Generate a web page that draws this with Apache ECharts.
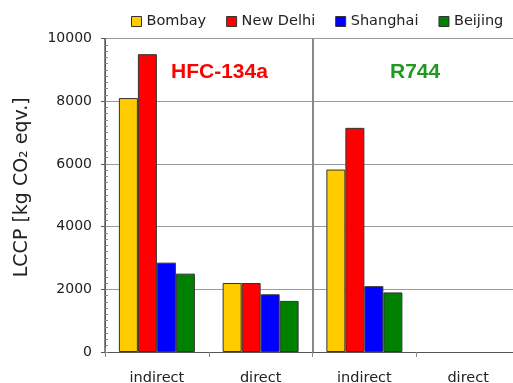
<!DOCTYPE html>
<html>
<head>
<meta charset="utf-8">
<script src="https://cdn.jsdelivr.net/npm/echarts@6/dist/echarts.min.js"></script>
<style>
  html, body { margin: 0; padding: 0; background: #fff; }
  #chart { width: 513px; height: 383px; }
</style>
</head>
<body>
<div id="chart"></div>
<script>
// Life-cycle climate performance per city, for two refrigerants
var categories = ['indirect', 'direct', 'indirect', 'direct'];
var bombay    = [8100, 2200, 5820, null];
var newDelhi  = [9500, 2200, 7150, null];
var shanghai  = [2850, 1840, 2100, null];
var beijing   = [2500, 1630, 1900, null];
var seriesNames = ['Bombay', 'New Delhi', 'Shanghai', 'Beijing'];
var seriesColors = ['#FFCC00', '#FF0000', '#0000FF', '#008000'];
var yTicks = [0, 2000, 4000, 6000, 8000, 10000];

var labelFont = 'DejaVu Sans';
var chart = echarts.init(document.getElementById('chart'), null, { renderer: 'canvas' });

function bar(name, data, color) {
  return {
    name: name,
    type: 'bar',
    data: data,
    barWidth: 19,
    barGap: '0%',
    itemStyle: { color: color, borderColor: '#333', borderWidth: 1 }
  };
}

// boundary lines only before the 1st and 3rd groups (the 1st sits under the y axis)
function dividerOnly(i) { return i === 0 || i === 2; }

chart.setOption({
  animation: false,
  backgroundColor: '#fff',
  grid: {
    left: 105, top: 38.5, bottom: 31, width: 415,
    containLabel: false, outerBoundsMode: 'none'
  },
  legend: {
    data: seriesNames,
    left: 131,
    top: 14,
    padding: 0,
    itemWidth: 10,
    itemHeight: 10,
    itemGap: 20,
    icon: 'rect',
    itemStyle: { borderColor: '#333', borderWidth: 1 },
    textStyle: { fontFamily: labelFont, fontSize: 14.5, color: '#222' }
  },
  xAxis: [{
    type: 'category',
    data: categories,
    position: 'bottom',
    axisLine: { lineStyle: { color: '#555', width: 1 } },
    axisTick: { show: true, length: 5, lineStyle: { color: '#888' } },
    axisLabel: { fontFamily: labelFont, fontSize: 14.5, color: '#222', margin: 19 },
    splitLine: {
      show: true,
      interval: dividerOnly,
      lineStyle: { color: '#888', width: 2 }
    }
  }, {
    // upper stub of the refrigerant divider
    type: 'category',
    data: categories,
    position: 'top',
    axisLine: { show: false },
    axisTick: { show: true, length: 4, interval: dividerOnly, lineStyle: { color: '#888', width: 2 } },
    axisLabel: { show: false },
    splitLine: { show: false }
  }],
  yAxis: [{
    type: 'value',
    min: yTicks[0],
    max: yTicks[yTicks.length - 1],
    interval: 2000,
    name: 'LCCP [kg CO\u2082 eqv.]',
    nameLocation: 'middle',
    nameGap: 73,
    nameTextStyle: { fontFamily: labelFont, fontSize: 19, color: '#222', padding: [0, 0, 0, 16] },
    axisLine: { show: true, lineStyle: { color: '#555' } },
    axisTick: { show: true, length: 4, lineStyle: { color: '#555' } },
    axisLabel: {
      fontFamily: labelFont, fontSize: 14, color: '#222', margin: 13,
      formatter: function (v) { return String(v); }
    },
    splitLine: { show: true, lineStyle: { color: '#9a9a9a', width: 1 } }
  }, {
    // fine inner ticks every 200
    type: 'value',
    min: yTicks[0],
    max: yTicks[yTicks.length - 1],
    interval: 200,
    position: 'left',
    axisLine: { show: false },
    axisTick: { show: true, inside: true, length: 3, lineStyle: { color: '#888' } },
    axisLabel: { show: false },
    splitLine: { show: false }
  }],
  series: [
    bar(seriesNames[0], bombay, seriesColors[0]),
    bar(seriesNames[1], newDelhi, seriesColors[1]),
    bar(seriesNames[2], shanghai, seriesColors[2]),
    bar(seriesNames[3], beijing, seriesColors[3])
  ],
  graphic: [{
    type: 'text',
    left: 171,
    top: 62,
    style: { text: 'HFC-134a', fill: '#FF0000', font: 'bold 21px "Liberation Sans", Arial, sans-serif' }
  }, {
    type: 'text',
    left: 390,
    top: 62,
    style: { text: 'R744', fill: '#1F9A1F', font: 'bold 21px "Liberation Sans", Arial, sans-serif' }
  }]
});
</script>
</body>
</html>
